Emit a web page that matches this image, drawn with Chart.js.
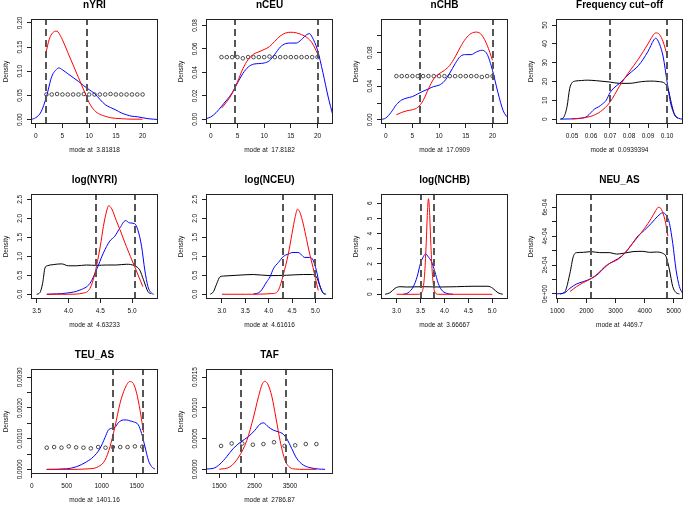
<!DOCTYPE html>
<html><head><meta charset="utf-8">
<script src="https://cdn.jsdelivr.net/npm/chart.js@4"></script>
<style>
html,body{margin:0;padding:0;background:#fff;overflow:hidden;width:685px;height:505px;position:relative}
canvas{position:absolute}
</style></head><body>
<script>
const FONT = '"Liberation Sans", Arial, Helvetica, sans-serif';

// ---------- nYRI ----------
const nYRI_redX = [2, 2.5, 3, 3.5, 3.8, 4.2, 5, 6, 7, 8, 9, 10, 11, 12, 13, 14, 16, 18, 20];
const nYRI_redY = [0.142, 0.165, 0.177, 0.182, 0.183, 0.181, 0.165, 0.139, 0.113, 0.087, 0.061, 0.035, 0.019, 0.011, 0.007, 0.004, 0.002, 0.001, 0.001];
const nYRI_blueX = [-0.88, 0, 1, 2, 3, 4, 4.3, 5, 6, 7, 8, 9, 10, 11, 12, 13, 14, 15, 16, 17, 18, 19, 20, 21, 22, 22.88];
const nYRI_blueY = [0.0005, 0.004, 0.016, 0.047, 0.089, 0.105, 0.107, 0.103, 0.095, 0.087, 0.079, 0.070, 0.062, 0.054, 0.042, 0.031, 0.025, 0.020, 0.014, 0.010, 0.007, 0.006, 0.004, 0.002, 0.001, 0.0003];
const nYRI_ptX = [2, 3, 4, 5, 6, 7, 8, 9, 10, 11, 12, 13, 14, 15, 16, 17, 18, 19, 20];
const nYRI_ptY = [0.052, 0.052, 0.053, 0.052, 0.052, 0.052, 0.052, 0.053, 0.052, 0.052, 0.052, 0.052, 0.053, 0.052, 0.052, 0.052, 0.052, 0.052, 0.052];
const nYRI_hpd = [2.0, 9.6];

// ---------- nCEU ----------
const nCEU_redX = [2, 3, 4, 5, 6, 7, 8, 9, 10, 11, 12, 13, 14, 15, 16, 17, 18, 19, 20];
const nCEU_redY = [0.0095, 0.015, 0.022, 0.032, 0.043, 0.051, 0.0555, 0.0575, 0.0595, 0.062, 0.0665, 0.071, 0.0735, 0.0742, 0.0737, 0.0722, 0.0698, 0.065, 0.056];
const nCEU_blueX = [-0.9, 0, 1, 2, 3, 4, 5, 6, 7, 8, 9, 10, 11, 12, 13, 14, 15, 16, 17, 18, 18.5, 19, 20, 21, 22, 22.9];
const nCEU_blueY = [0.0005, 0.002, 0.0057, 0.011, 0.0165, 0.0225, 0.031, 0.039, 0.0445, 0.047, 0.0475, 0.048, 0.050, 0.0555, 0.0615, 0.0645, 0.065, 0.065, 0.068, 0.0723, 0.073, 0.070, 0.059, 0.040, 0.019, 0.003];
const nCEU_ptX = [2, 3, 4, 5, 6, 7, 8, 9, 10, 11, 12, 13, 14, 15, 16, 17, 18, 19, 20];
const nCEU_ptY = [0.053, 0.053, 0.053, 0.053, 0.052, 0.053, 0.053, 0.053, 0.053, 0.0535, 0.053, 0.053, 0.053, 0.053, 0.053, 0.053, 0.053, 0.053, 0.053];
const nCEU_hpd = [4.6, 20];

// ---------- nCHB ----------
const nCHB_redX = [2, 3, 4, 5, 6, 7, 8, 9, 10, 11, 12, 13, 14, 15, 16, 17, 18, 19, 20];
const nCHB_redY = [0.006, 0.0088, 0.0108, 0.012, 0.0148, 0.0228, 0.0368, 0.0488, 0.0548, 0.0588, 0.0648, 0.0748, 0.0868, 0.0968, 0.1028, 0.1044, 0.1008, 0.0888, 0.0708];
const nCHB_blueX = [-0.88, 0, 1, 2, 3, 4, 5, 6, 7, 8, 9, 10, 11, 12, 13, 14, 15, 16, 17, 18, 19, 20, 21, 22, 22.9];
const nCHB_blueY = [0.0004, 0.002, 0.0088, 0.018, 0.0236, 0.026, 0.0276, 0.0308, 0.034, 0.0368, 0.0396, 0.0412, 0.046, 0.0556, 0.0668, 0.0756, 0.0776, 0.0776, 0.0808, 0.0828, 0.078, 0.0588, 0.0328, 0.0108, 0.002];
const nCHB_ptX = [2, 3, 4, 5, 6, 7, 8, 9, 10, 11, 12, 13, 14, 15, 16, 17, 18, 19, 20];
const nCHB_ptY = [0.052, 0.052, 0.052, 0.052, 0.052, 0.052, 0.052, 0.052, 0.052, 0.052, 0.052, 0.052, 0.052, 0.052, 0.052, 0.052, 0.051, 0.052, 0.052];
const nCHB_hpd = [6.4, 20];

// ---------- Frequency cut-off ----------
const freq_blackX = [0.0439, 0.0456, 0.0474, 0.0488, 0.05, 0.0517, 0.055, 0.058, 0.063, 0.07, 0.075, 0.08, 0.0866, 0.091, 0.096, 0.0988, 0.1005, 0.1023, 0.104, 0.1058];
const freq_blackY = [0, 0.9, 6.6, 16.3, 19.3, 20.2, 20.5, 20.7, 20.4, 19.7, 19.0, 19.0, 19.9, 20.2, 19.9, 19.0, 16.3, 8.3, 2.1, 0.4];
const freq_redX = [0.05, 0.055, 0.06, 0.065, 0.07, 0.075, 0.08, 0.085, 0.09, 0.092, 0.094, 0.096, 0.098, 0.10];
const freq_redY = [0.2, 0.5, 1.5, 4, 9, 17.5, 25, 32, 40, 43.5, 45.8, 45, 41, 34];
const freq_blueX = [0.044, 0.05, 0.055, 0.058, 0.06, 0.062, 0.064, 0.066, 0.068, 0.07, 0.072, 0.075, 0.08, 0.085, 0.09, 0.093, 0.094, 0.096, 0.098, 0.1, 0.102, 0.104, 0.106, 0.108];
const freq_blueY = [0, 0.1, 0.5, 1.5, 3.5, 5.5, 6.5, 8, 10, 14, 16.5, 19, 24, 28.5, 36, 42, 43, 40, 33, 20, 8, 2.5, 0.5, 0];
const freq_hpd = [0.07, 0.10];

// ---------- log(NYRI) ----------
const lNYRI_blackX = [3.5, 3.55, 3.594, 3.63, 3.667, 3.76, 3.89, 4.0, 4.13, 4.28, 4.44, 4.6, 4.75, 4.91, 5.04, 5.12, 5.18, 5.25, 5.3];
const lNYRI_blackY = [0, 0.04, 0.29, 0.69, 0.75, 0.78, 0.80, 0.75, 0.75, 0.77, 0.76, 0.77, 0.77, 0.79, 0.75, 0.64, 0.38, 0.07, 0.01];
const lNYRI_redX = [3.657, 4.0, 4.23, 4.34, 4.41, 4.5, 4.55, 4.6, 4.632, 4.68, 4.75, 4.81, 4.91, 5.04, 5.17];
const lNYRI_redY = [0, 0, 0.03, 0.16, 0.51, 1.26, 1.79, 2.19, 2.33, 2.25, 1.95, 1.70, 1.26, 0.73, 0.2];
const lNYRI_blueX = [3.66, 3.97, 4.18, 4.34, 4.44, 4.55, 4.65, 4.73, 4.81, 4.9, 4.96, 5.04, 5.09, 5.15, 5.2, 5.25, 5.3, 5.34];
const lNYRI_blueY = [0, 0.03, 0.11, 0.29, 0.64, 1.09, 1.40, 1.53, 1.75, 1.94, 1.88, 1.86, 1.70, 1.26, 0.64, 0.2, 0.04, 0];
const lNYRI_hpd = [4.43, 5.05];

// ---------- log(NCEU) ----------
const lNCEU_blackX = [2.75, 2.82, 2.89, 2.96, 3.04, 3.32, 3.67, 4.03, 4.38, 4.74, 4.91, 5.02, 5.09, 5.16, 5.23];
const lNCEU_blackY = [0, 0.07, 0.28, 0.46, 0.48, 0.5, 0.52, 0.49, 0.5, 0.52, 0.52, 0.46, 0.24, 0.04, 0];
const lNCEU_redX = [3.0, 3.5, 4.1, 4.21, 4.31, 4.42, 4.5, 4.57, 4.616, 4.67, 4.74, 4.81, 4.88, 4.95, 5.0, 5.06];
const lNCEU_redY = [0, 0, 0.02, 0.11, 0.5, 1.06, 1.6, 2.05, 2.24, 2.15, 1.85, 1.45, 1.05, 0.7, 0.42, 0.1];
const lNCEU_blueX = [3.67, 3.82, 3.96, 4.03, 4.1, 4.21, 4.31, 4.42, 4.52, 4.63, 4.7, 4.77, 4.88, 4.95, 5.02, 5.09, 5.16, 5.2];
const lNCEU_blueY = [0, 0.07, 0.33, 0.46, 0.67, 0.84, 0.99, 1.06, 1.10, 1.10, 1.04, 0.97, 0.97, 0.9, 0.63, 0.24, 0.04, 0];
const lNCEU_hpd = [4.31, 5.0];

// ---------- log(NCHB) ----------
const lNCHB_blackX = [2.76, 2.86, 2.97, 3.07, 3.21, 3.56, 3.9, 4.25, 4.6, 4.91, 5.01, 5.12, 5.22];
const lNCHB_blackY = [0, 0.1, 0.4, 0.5, 0.48, 0.5, 0.48, 0.5, 0.53, 0.53, 0.4, 0.1, 0];
const lNCHB_redX = [3.0, 3.45, 3.52, 3.56, 3.59, 3.62, 3.645, 3.667, 3.69, 3.715, 3.745, 3.775, 3.81, 3.87, 5.0];
const lNCHB_redY = [0, 0, 0.1, 0.5, 1.5, 3.4, 5.4, 6.3, 5.4, 3.4, 1.5, 0.5, 0.1, 0, 0];
const lNCHB_blueX = [3.14, 3.24, 3.35, 3.43, 3.5, 3.56, 3.61, 3.66, 3.73, 3.8, 3.87, 3.94, 4.04, 4.18];
const lNCHB_blueY = [0, 0.1, 0.5, 1.16, 2.04, 2.48, 2.66, 2.48, 2.15, 1.5, 0.73, 0.29, 0.07, 0];
const lNCHB_hpd = [3.507, 3.785];

// ---------- NEU_AS ----------
const neu_blackX = [1092, 1263, 1434, 1548, 1662, 1890, 2152, 2460, 2802, 3030, 3257, 3600, 3941, 4169, 4397, 4625, 4738, 4853, 4966, 5080, 5194];
const neu_blackY = [0, 0.16e-4, 1.43e-4, 2.58e-4, 2.86e-4, 2.88e-4, 2.93e-4, 2.86e-4, 2.86e-4, 2.76e-4, 2.81e-4, 2.93e-4, 2.95e-4, 2.88e-4, 2.9e-4, 2.81e-4, 2.58e-4, 1.66e-4, 0.51e-4, 0.09e-4, 0];
const neu_redX = [1434, 1662, 1890, 2175, 2403, 2631, 2802, 3087, 3314, 3543, 3770, 3998, 4226, 4390, 4470, 4580, 4700, 4800];
const neu_redY = [0.16e-4, 0.51e-4, 0.78e-4, 1.08e-4, 1.43e-4, 1.89e-4, 2.12e-4, 2.40e-4, 2.81e-4, 3.39e-4, 3.96e-4, 4.54e-4, 5.23e-4, 5.8e-4, 6.0e-4, 5.85e-4, 5.1e-4, 4.0e-4];
const neu_blueX = [944, 1092, 1263, 1434, 1662, 1890, 2175, 2403, 2631, 2802, 3087, 3314, 3543, 3770, 3998, 4226, 4454, 4625, 4738, 4853, 4966, 5080, 5194, 5285];
const neu_blueY = [0, 0.02e-4, 0.09e-4, 0.39e-4, 0.69e-4, 0.85e-4, 1.08e-4, 1.38e-4, 1.84e-4, 2.12e-4, 2.44e-4, 2.81e-4, 3.39e-4, 4.01e-4, 4.42e-4, 4.88e-4, 5.39e-4, 5.62e-4, 5.46e-4, 4.88e-4, 3.5e-4, 1.66e-4, 0.51e-4, 0.09e-4];
const neu_hpd = [2152, 4784];

// ---------- TEU_AS ----------
const teu_redX = [214, 500, 833, 952, 1048, 1119, 1190, 1262, 1333, 1401, 1452, 1500, 1548, 1586, 1600];
const teu_redY = [0, 0, 0.00002, 0.00009, 0.0003, 0.00074, 0.00139, 0.00215, 0.00264, 0.00286, 0.0028, 0.00248, 0.00193, 0.00139, 0.0012];
const teu_blueX = [214, 500, 643, 786, 881, 976, 1048, 1095, 1143, 1190, 1238, 1310, 1357, 1405, 1452, 1524, 1571, 1619, 1667, 1714, 1762];
const teu_blueY = [0, 0.00002, 0.00009, 0.00025, 0.00041, 0.00068, 0.00104, 0.00128, 0.00134, 0.00137, 0.00152, 0.00161, 0.00161, 0.00158, 0.00155, 0.00145, 0.00117, 0.00074, 0.0003, 0.00009, 0.00001];
const teu_ptX = [215, 320, 425, 530, 635, 740, 845, 950, 1055, 1160, 1265, 1370, 1475, 1580];
const teu_ptY = [0.000707, 0.000728, 0.000707, 0.00075, 0.000717, 0.000707, 0.000685, 0.000728, 0.000707, 0.000728, 0.000728, 0.000728, 0.00075, 0.00074];
const teu_hpd = [1157, 1595];

// ---------- TAF ----------
const taf_redX = [1500, 1800, 2050, 2280, 2470, 2610, 2720, 2787, 2870, 2990, 3100, 3220, 3360, 3500, 3650, 3900, 4250];
const taf_redY = [0, 0.00004, 0.0002, 0.00047, 0.00085, 0.00118, 0.00139, 0.00143, 0.00139, 0.00118, 0.00085, 0.00047, 0.00015, 0.00003, 0.000005, 0, 0];
const taf_blueX = [1114, 1331, 1520, 1709, 1897, 2115, 2322, 2511, 2653, 2747, 2889, 3031, 3172, 3314, 3408, 3550, 3692, 3880, 4069, 4305, 4494];
const taf_blueY = [0.000005, 0.000016, 0.000086, 0.000205, 0.00034, 0.000448, 0.00053, 0.000636, 0.000734, 0.000755, 0.00069, 0.000636, 0.00061, 0.00057, 0.0005, 0.00034, 0.000178, 0.00007, 0.000027, 0.000005, 0];
const taf_ptX = [1550, 1850, 2150, 2450, 2750, 3050, 3350, 3650, 3950, 4250];
const taf_ptY = [0.00038, 0.00042, 0.00042, 0.0004, 0.00041, 0.00044, 0.00038, 0.00039, 0.00041, 0.00041];
const taf_hpd = [2115, 3380];

// ---------- tick values / labels ----------
const ticksN = [0, 5, 10, 15, 20];
const labelsN = ['0', '5', '10', '15', '20'];
const nYRI_yT = [0, 0.05, 0.10, 0.15, 0.20];
const nYRI_yL = ['0.00', '0.05', '0.10', '0.15', '0.20'];
const nCEU_yT = [0, 0.02, 0.04, 0.06, 0.08];
const nCEU_yL = ['0.00', '0.02', '0.04', '0.06', '0.08'];
const nCHB_yT = [0, 0.02, 0.04, 0.06, 0.08, 0.10];
const nCHB_yL = ['0.00', '', '0.04', '', '0.08', ''];
const freq_xT = [0.05, 0.06, 0.07, 0.08, 0.09, 0.10];
const freq_xL = ['0.05', '0.06', '0.07', '0.08', '0.09', '0.10'];
const freq_yT = [0, 10, 20, 30, 40, 50];
const freq_yL = ['0', '10', '20', '30', '40', '50'];
const lNYRI_xT = [3.5, 4.0, 4.5, 5.0];
const lNYRI_xL = ['3.5', '4.0', '4.5', '5.0'];
const log_xT = [3.0, 3.5, 4.0, 4.5, 5.0];
const log_xL = ['3.0', '3.5', '4.0', '4.5', '5.0'];
const log_yT = [0, 0.5, 1.0, 1.5, 2.0, 2.5];
const log_yL = ['0.0', '0.5', '1.0', '1.5', '2.0', '2.5'];
const lNCHB_yT = [0, 1, 2, 3, 4, 5, 6];
const lNCHB_yL = ['0', '1', '2', '3', '4', '5', '6'];
const neu_xT = [1000, 2000, 3000, 4000, 5000];
const neu_xL = ['1000', '2000', '3000', '4000', '5000'];
const neu_yT = [0, 1e-4, 2e-4, 3e-4, 4e-4, 5e-4, 6e-4];
const neu_yL = ['0e+00', '', '2e-04', '', '4e-04', '', '6e-04'];
const teu_xT = [0, 500, 1000, 1500];
const teu_xL = ['0', '500', '1000', '1500'];
const teu_yT = [0, 0.0005, 0.0010, 0.0015, 0.0020, 0.0025, 0.0030];
const teu_yL = ['0.0000', '', '0.0010', '', '0.0020', '', '0.0030'];
const taf_xT = [1500, 2000, 2500, 3000, 3500, 4000];
const taf_xL = ['1500', '', '2500', '', '3500', ''];
const taf_yT = [0, 0.0005, 0.0010, 0.0015];
const taf_yL = ['0.0000', '0.0005', '0.0010', '0.0015'];

const panels = [
  {title: 'nYRI', mode: '3.81818', col: 0, row: 0, xr: [-0.88, 22.88], yr: [-0.009, 0.208], xT: ticksN, xL: labelsN, yT: nYRI_yT, yL: nYRI_yL,
   red: [nYRI_redX, nYRI_redY], blue: [nYRI_blueX, nYRI_blueY], black: null, pts: [nYRI_ptX, nYRI_ptY], hpd: nYRI_hpd},
  {title: 'nCEU', mode: '17.8182', col: 1, row: 0, xr: [-0.9, 22.9], yr: [-0.004, 0.0855], xT: ticksN, xL: labelsN, yT: nCEU_yT, yL: nCEU_yL,
   red: [nCEU_redX, nCEU_redY], blue: [nCEU_blueX, nCEU_blueY], black: null, pts: [nCEU_ptX, nCEU_ptY], hpd: nCEU_hpd},
  {title: 'nCHB', mode: '17.0909', col: 2, row: 0, xr: [-0.88, 22.9], yr: [-0.005, 0.12], xT: ticksN, xL: labelsN, yT: nCHB_yT, yL: nCHB_yL,
   red: [nCHB_redX, nCHB_redY], blue: [nCHB_blueX, nCHB_blueY], black: null, pts: [nCHB_ptX, nCHB_ptY], hpd: nCHB_hpd},
  {title: 'Frequency cut\u2212off', mode: '0.0939394', col: 3, row: 0, xr: [0.0416, 0.1084], yr: [-2.6, 53.2], xT: freq_xT, xL: freq_xL, yT: freq_yT, yL: freq_yL,
   red: [freq_redX, freq_redY], blue: [freq_blueX, freq_blueY], black: [freq_blackX, freq_blackY], pts: null, hpd: freq_hpd},
  {title: 'log(NYRI)', mode: '4.63233', col: 0, row: 1, xr: [3.411, 5.408], yr: [-0.125, 2.64], xT: lNYRI_xT, xL: lNYRI_xL, yT: log_yT, yL: log_yL,
   red: [lNYRI_redX, lNYRI_redY], blue: [lNYRI_blueX, lNYRI_blueY], black: [lNYRI_blackX, lNYRI_blackY], pts: null, hpd: lNYRI_hpd},
  {title: 'log(NCEU)', mode: '4.61616', col: 1, row: 1, xr: [2.66, 5.376], yr: [-0.125, 2.64], xT: log_xT, xL: log_xL, yT: log_yT, yL: log_yL,
   red: [lNCEU_redX, lNCEU_redY], blue: [lNCEU_blueX, lNCEU_blueY], black: [lNCEU_blackX, lNCEU_blackY], pts: null, hpd: lNCEU_hpd},
  {title: 'log(NCHB)', mode: '3.66667', col: 2, row: 1, xr: [2.674, 5.33], yr: [-0.31, 6.61], xT: log_xT, xL: log_xL, yT: lNCHB_yT, yL: lNCHB_yL,
   red: [lNCHB_redX, lNCHB_redY], blue: [lNCHB_blueX, lNCHB_blueY], black: [lNCHB_blackX, lNCHB_blackY], pts: null, hpd: lNCHB_hpd},
  {title: 'NEU_AS', mode: '4469.7', col: 3, row: 1, xr: [955, 5318], yr: [-0.35e-4, 6.92e-4], xT: neu_xT, xL: neu_xL, yT: neu_yT, yL: neu_yL,
   red: [neu_redX, neu_redY], blue: [neu_blueX, neu_blueY], black: [neu_blackX, neu_blackY], pts: null, hpd: neu_hpd},
  {title: 'TEU_AS', mode: '1401.16', col: 0, row: 2, xr: [-10, 1805], yr: [-0.00015, 0.00327], xT: teu_xT, xL: teu_xL, yT: teu_yT, yL: teu_yL,
   red: [teu_redX, teu_redY], blue: [teu_blueX, teu_blueY], black: null, pts: [teu_ptX, teu_ptY], hpd: teu_hpd},
  {title: 'TAF', mode: '2786.87', col: 1, row: 2, xr: [1123, 4721], yr: [-0.000076, 0.00163], xT: taf_xT, xL: taf_xL, yT: taf_yT, yL: taf_yL,
   red: [taf_redX, taf_redY], blue: [taf_blueX, taf_blueY], black: null, pts: [taf_ptX, taf_ptY], hpd: taf_hpd}
];

const deco = {
  id: 'deco',
  afterDatasetsDraw(chart, args, o) {
    const ctx = chart.ctx, a = chart.chartArea, xs = chart.scales.x;
    ctx.save();
    ctx.setLineDash([7, 4]);
    ctx.strokeStyle = '#555';
    ctx.lineWidth = 2;
    o.hpd.forEach(v => {
      const px = Math.round(xs.getPixelForValue(v));
      ctx.beginPath();
      ctx.moveTo(px, a.bottom);
      ctx.lineTo(px, a.top);
      ctx.stroke();
    });
    ctx.restore();
  },
  afterDraw(chart, args, o) {
    const ctx = chart.ctx, a = chart.chartArea, ys = chart.scales.y;
    ctx.save();
    ctx.strokeStyle = '#222';
    ctx.lineWidth = 1;
    ctx.strokeRect(Math.round(a.left) + 0.5, Math.round(a.top) + 0.5, Math.round(a.right - a.left) - 1, Math.round(a.bottom - a.top) - 1);
    ctx.fillStyle = '#111';
    ctx.font = '6.5px ' + FONT;
    ctx.textAlign = 'center';
    ctx.textBaseline = 'middle';
    ys.ticks.forEach((t, i) => {
      const lab = o.labels[i];
      if (!lab) return;
      const py = ys.getPixelForValue(t.value);
      ctx.save();
      ctx.translate(a.left - 10.5, py);
      ctx.rotate(-Math.PI / 2);
      ctx.fillText(lab, 0, 0);
      ctx.restore();
    });
    ctx.restore();
  }
};

const toXY = (xs, ys) => xs.map((x, k) => ({x: x, y: ys[k]}));

panels.forEach(p => {
  const cv = document.createElement('canvas');
  cv.width = 175; cv.height = 160;
  cv.style.left = (p.col * 175) + 'px';
  cv.style.top = (p.row * 175) + 'px';
  cv.style.width = '175px'; cv.style.height = '160px';
  document.body.appendChild(cv);
  const lineDs = (d, color, order) => ({
    type: 'line', data: toXY(d[0], d[1]), borderColor: color, borderWidth: 1,
    pointRadius: 0, cubicInterpolationMode: 'monotone', fill: false, order: order
  });
  const ds = [];
  if (p.pts) ds.push({type: 'scatter', data: toXY(p.pts[0], p.pts[1]), showLine: false,
    pointRadius: 1.8, pointStyle: 'circle', pointBorderColor: '#222', pointBackgroundColor: 'rgba(0,0,0,0)',
    pointBorderWidth: 0.8, order: 4});
  if (p.black) ds.push(lineDs(p.black, '#000000', 3));
  ds.push(lineDs(p.blue, '#0000FF', 2));
  ds.push(lineDs(p.red, '#FF0000', 1));
  const gridOpt = {display: true, drawOnChartArea: false, drawTicks: true, tickLength: 4, color: '#222', lineWidth: 1};
  new Chart(cv, {
    type: 'line',
    data: {datasets: ds},
    plugins: [deco],
    options: {
      responsive: false, animation: false, devicePixelRatio: 1,
      layout: {padding: {left: 0, right: 17, top: 0, bottom: 0}},
      plugins: {
        legend: {display: false}, tooltip: {enabled: false},
        title: {display: true, text: p.title, fullSize: false, color: '#000',
          font: {family: FONT, size: 10, weight: 'bold', lineHeight: 1}, padding: {top: 0, bottom: 9}},
        deco: {hpd: p.hpd, labels: p.yL}
      },
      scales: {
        x: {
          type: 'linear', min: p.xr[0], max: p.xr[1],
          afterBuildTicks: s => { s.ticks = p.xT.map(v => ({value: v})); },
          afterFit: s => { s.height = 36; s.paddingLeft = 0; s.paddingRight = 0; },
          ticks: {autoSkip: false, maxRotation: 0, minRotation: 0, padding: 4.6, color: '#111',
            font: {family: FONT, size: 6.5}, callback: (v, i) => p.xL[i]},
          grid: gridOpt, border: {display: false},
          title: {display: true, text: 'mode at  ' + p.mode, color: '#111', font: {family: FONT, size: 6.5},
            padding: {top: 0, bottom: 6}}
        },
        y: {
          type: 'linear', min: p.yr[0], max: p.yr[1],
          afterBuildTicks: s => { s.ticks = p.yT.map(v => ({value: v})); },
          afterFit: s => { s.width = 31; s.paddingTop = 0; s.paddingBottom = 0; },
          ticks: {display: false},
          grid: gridOpt, border: {display: false},
          title: {display: true, text: 'Density', color: '#111', font: {family: FONT, size: 6.5},
            padding: {top: 2, bottom: 0}}
        }
      }
    }
  });
});
</script>
</body></html>
